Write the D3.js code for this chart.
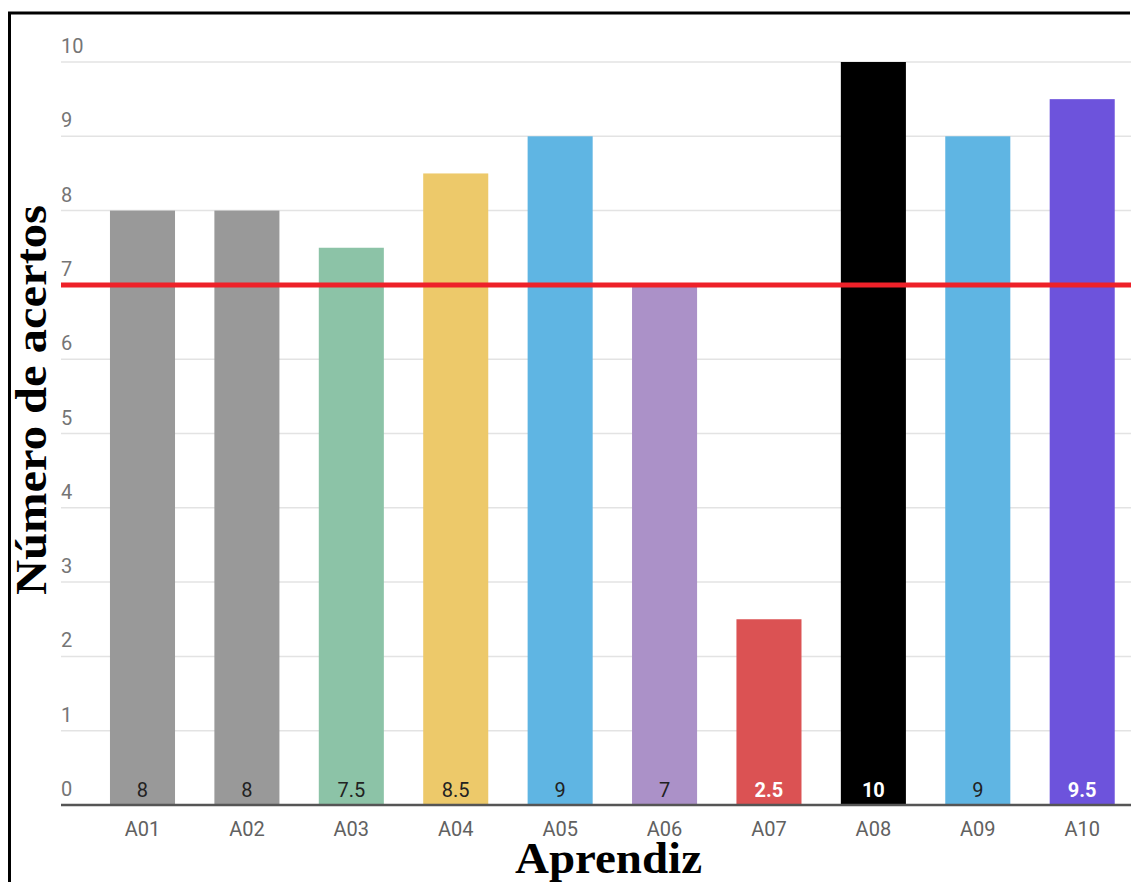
<!DOCTYPE html>
<html>
<head>
<meta charset="utf-8">
<script src="https://cdn.jsdelivr.net/npm/d3@7"></script>
<style>
  html, body { margin: 0; padding: 0; background: #fff; }
  svg { display: block; }
</style>
</head>
<body>
<div id="chart"></div>
<script>
const learners = ["A01", "A02", "A03", "A04", "A05", "A06", "A07", "A08", "A09", "A10"];
const scores = [8, 8, 7.5, 8.5, 9, 7, 2.5, 10, 9, 9.5];
const barColors = ["#999999", "#999999", "#8cc3a7", "#edc96a", "#5fb5e3", "#ab91c8", "#db5253", "#000000", "#5fb5e3", "#6d53dc"];
const labelColors = ["#222", "#222", "#222", "#222", "#222", "#222", "#fff", "#fff", "#222", "#fff"];
const yTicks = [0, 1, 2, 3, 4, 5, 6, 7, 8, 9, 10];
const passMark = 7;

const W = 1131, H = 882;
const plotLeft = 61, plotRight = 1131;
const plotTop = 62, plotBottom = 805;

const svg = d3.select("#chart").append("svg").attr("width", W).attr("height", H);

const x = d3.scaleBand()
  .domain(learners)
  .range([plotLeft, 1163.7])
  .paddingInner(0.377)
  .paddingOuter(0.469);

const y = d3.scaleLinear().domain([0, 10]).range([plotBottom, plotTop]);

// gridlines + tick labels
const grid = svg.append("g");
grid.selectAll("line")
  .data(yTicks.filter((d) => d > 0))
  .join("line")
  .attr("x1", plotLeft)
  .attr("x2", plotRight)
  .attr("y1", (d) => y(d))
  .attr("y2", (d) => y(d))
  .attr("stroke", "#e3e3e3")
  .attr("stroke-width", 1.5);

grid.selectAll("text")
  .data(yTicks)
  .join("text")
  .attr("x", plotLeft)
  .attr("y", (d) => y(d) - 9)
  .attr("fill", "#757575")
  .attr("font-family", "Roboto, sans-serif")
  .attr("font-size", "20px")
  .text((d) => d);

// bars
const bars = svg.append("g");
bars.selectAll("rect")
  .data(scores)
  .join("rect")
  .attr("x", (d, i) => x(learners[i]))
  .attr("width", x.bandwidth())
  .attr("y", (d) => y(d))
  .attr("height", (d) => y(0) - y(d))
  .attr("fill", (d, i) => barColors[i]);

// value labels inside the bars, at the base
bars.selectAll("text")
  .data(scores)
  .join("text")
  .attr("x", (d, i) => x(learners[i]) + x.bandwidth() / 2)
  .attr("y", y(0) - 8)
  .attr("text-anchor", "middle")
  .attr("fill", (d, i) => labelColors[i])
  .attr("font-family", "Roboto, sans-serif")
  .attr("font-weight", (d, i) => labelColors[i] === "#fff" ? 700 : 400)
  .attr("font-size", "20px")
  .text((d) => d);

// category labels
const xAxisG = svg.append("g").attr("transform", `translate(0,${plotBottom})`);
xAxisG.call(d3.axisBottom(x).tickSize(0))
  .call((g) => g.select(".domain").remove())
  .call((g) => g.selectAll(".tick text")
    .attr("y", 31)
    .attr("dy", null)
    .attr("fill", "#616161")
    .attr("font-family", "Roboto, sans-serif")
    .attr("font-size", "20px"));

// baseline
svg.append("line")
  .attr("x1", plotLeft).attr("x2", plotRight)
  .attr("y1", plotBottom).attr("y2", plotBottom)
  .attr("stroke", "#555")
  .attr("stroke-width", 2.5);

// pass mark line
svg.append("line")
  .attr("x1", plotLeft).attr("x2", plotRight)
  .attr("y1", y(passMark)).attr("y2", y(passMark))
  .attr("stroke", "#ee2129")
  .attr("stroke-width", 5);

// axis titles
svg.append("text")
  .attr("x", 608.5)
  .attr("y", 873)
  .attr("text-anchor", "middle")
  .attr("font-family", "'Liberation Serif', 'Times New Roman', serif")
  .attr("font-weight", 700)
  .attr("font-size", "45px")
  .attr("fill", "#000")
  .attr("textLength", 187)
  .attr("lengthAdjust", "spacingAndGlyphs")
  .text("Aprendiz");

svg.append("text")
  .attr("transform", "translate(46,400) rotate(-90)")
  .attr("text-anchor", "middle")
  .attr("font-family", "'Liberation Serif', 'Times New Roman', serif")
  .attr("font-weight", 700)
  .attr("font-size", "45px")
  .attr("fill", "#000")
  .attr("textLength", 390)
  .attr("lengthAdjust", "spacingAndGlyphs")
  .text("Número de acertos");

// frame (left and top edges visible)
svg.append("path")
  .attr("d", `M9.5,${H} V13 H1130`)
  .attr("fill", "none")
  .attr("stroke", "#000")
  .attr("stroke-width", 3);
</script>
</body>
</html>
